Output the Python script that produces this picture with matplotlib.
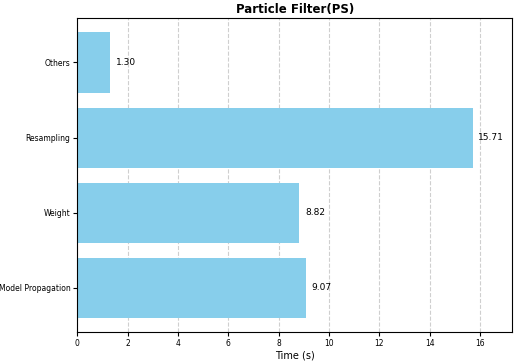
import matplotlib
matplotlib.use("Agg")
import matplotlib.pyplot as plt

categories = ["Model Propagation", "Weight", "Resampling", "Others"]
values = [9.07, 8.82, 15.71, 1.30]

fig, ax = plt.subplots(figsize=(5.15, 3.64), dpi=100)
bars = ax.barh(categories, values, color="skyblue", height=0.8)
ax.set_xlim(0, max(values) * 1.1)
ax.grid(axis="x", linestyle="--", alpha=0.6)
ax.set_axisbelow(True)
for b, v in zip(bars, values):
    ax.text(v + 0.22, b.get_y() + b.get_height() / 2, f"{v:.2f}", va="center", fontsize=6.5)
ax.set_title("Particle Filter(PS)", fontsize=8.5, fontweight="bold", pad=4)
ax.set_xlabel("Time (s)", fontsize=7, labelpad=2)
ax.tick_params(labelsize=5.5, length=3, pad=2)
fig.subplots_adjust(left=0.15, right=0.995, top=0.95, bottom=0.088)
fig.savefig("out.png", dpi=100)
